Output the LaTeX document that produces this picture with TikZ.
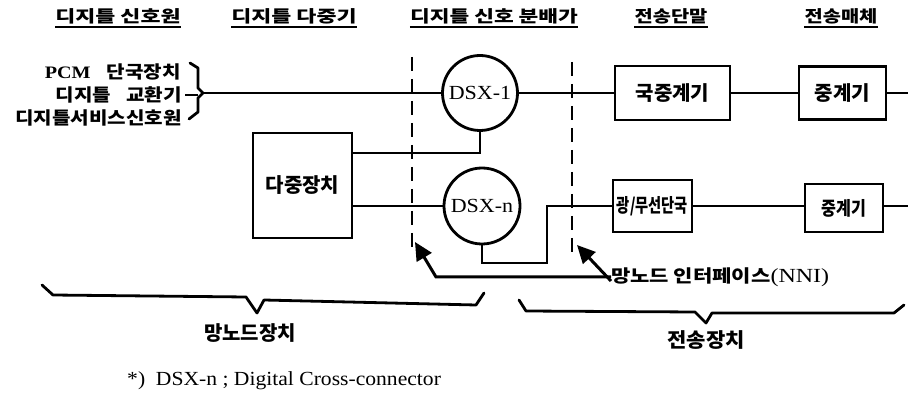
\documentclass[tikz,border=0pt]{standalone}
\usepackage{fontspec}
\setmainfont{Liberation Serif}
\newfontfamily\kr{Noto Sans CJK KR}
\usetikzlibrary{arrows.meta}
\newcommand{\KT}[3]{\scalebox{#2}[1]{\kr\bfseries\fontsize{#1}{#1}\selectfont #3}}
\newcommand{\LT}[3]{\scalebox{#2}[1]{\fontsize{#1}{#1}\selectfont #3}}
\tikzset{
  ln/.style={line width=2.8pt},
  box/.style={draw, line width=2.8pt, rectangle, inner sep=0pt},
  dsx/.style={draw, circle, line width=2.8pt, inner sep=0pt, minimum size=75pt},
  dsh/.style={line width=2.8pt, dash pattern=on 14pt off 8pt},
  arr/.style={line width=3pt, -{Triangle[length=18pt,width=17pt]}},
  txt/.style={inner sep=0pt},
  ul/.style={line width=2pt},
  brc/.style={line width=2.8pt, line join=round, line cap=round},
}
\begin{document}
\begin{tikzpicture}[x=1pt,y=-1pt]
\useasboundingbox (0,0) rectangle (908,395);
% headers
\node[txt] (h1) at (118,16) {\KT{16.5}{1.32}{디지틀 신호원}};
\node[txt] (h2) at (294,16) {\KT{16.5}{1.32}{디지틀 다중기}};
\node[txt] (h3) at (494,16) {\KT{16.5}{1.3}{디지틀 신호 분배가}};
\node[txt] (h4) at (671,16) {\KT{16.5}{1.2}{전송단말}};
\node[txt] (h5) at (841,16) {\KT{16.5}{1.2}{전송매체}};
\foreach \h in {h1,h2,h3,h4,h5}{
  \draw[ul] ([yshift=-3pt]\h.south west) -- ([yshift=-3pt]\h.south east);
}
% left sources
\node[txt, anchor=east] (s1) at (181,72) {\scalebox{1.15}[1]{\fontsize{17.5}{17.5}\selectfont\bfseries PCM\hspace{14pt}{\kr 단국장치}}};
\node[txt, anchor=east] (s2) at (182,95) {\KT{17.5}{1.15}{디지틀\hspace{13pt}교환기}};
\node[txt, anchor=east] (s3) at (182,118) {\KT{17.5}{1.15}{디지틀서비스신호원}};
% left brace
\draw[brc] (190,63) -- (198,68) -- (198,88) -- (203,93) -- (198,98) -- (198,112) -- (189,119);
\coordinate (bd1) at (185,95);
\coordinate (bd2) at (198,95);
\draw[ln] (bd1) -- (bd2);
% main nodes
\node[dsx] (d1) at (480,93) {\LT{20}{1.1}{DSX-1}};
\node[dsx, minimum size=76pt] (dn) at (482,206) {\LT{20}{1.1}{DSX-n}};
\node[box, minimum width=115pt, minimum height=54pt] (kj) at (672.5,93) {\KT{20}{1}{국중계기}};
\node[box, minimum width=87pt, minimum height=53pt] (r1) at (842.5,93) {\KT{20}{1}{중계기}};
\node[box, minimum width=79pt, minimum height=52pt] (gm) at (652.5,206) {\KT{19}{0.75}{광/무선단국}};
\node[box, minimum width=78pt, minimum height=48pt] (r2) at (844,208) {\KT{19}{0.85}{중계기}};
\node[box, minimum width=99pt, minimum height=105pt] (mux) at (302.5,185.5) {\KT{20}{1}{다중장치}};
% connections
\coordinate (bt) at (203,93);
\coordinate (e1) at (908,93);
\coordinate (e2) at (908,206);
\coordinate (m1) at (352,153);
\coordinate (c2) at (547,263);
\draw[ln] (bt) -- (d1.west);
\draw[ln] (d1.east) -- (kj.west);
\draw[ln] (kj.east) -- (r1.west);
\draw[ln] (r1.east) -- (e1);
\draw[ln] (d1.south) |- (m1);
\draw[ln] (mux.east |- dn.west) -- (dn.west);
\draw[ln] (dn.south) |- (c2) |- (gm.west);
\draw[ln] (gm.east) -- (r2.west |- gm.east);
\draw[ln] (r2.east |- e2) -- (e2);
% dashed interface lines
\coordinate (da1) at (412,57);
\coordinate (da2) at (412,250);
\coordinate (db1) at (572,62);
\coordinate (db2) at (572,255);
\draw[dsh] (da1) -- (da2);
\draw[dsh] (db1) -- (db2);
% NNI label and arrows
\node[txt, anchor=west] (nni) at (611,277) {\scalebox{1.2}[1]{\kr\bfseries\fontsize{17.5}{17.5}\selectfont 망노드 인터페이스{\rmfamily\mdseries\fontsize{20}{20}\selectfont (NNI)}}};
\coordinate (t1) at (415,242);
\coordinate (k1) at (436,277);
\coordinate (t2) at (577,245);
\draw[arr] (nni.west) -- (k1) -- (t1);
\draw[arr] ([yshift=-4pt]nni.west) -- (t2);
% bottom braces
\draw[brc] (42,285) -- (53,295) -- (246,297) -- (257,313) -- (264,300) -- (476,305) -- (484,293);
\draw[brc] (519,300) -- (526,311) -- (695,312) -- (706,323) -- (712,313) -- (894,313) -- (904,305);
\node[txt] (lb1) at (250,333) {\KT{20}{1}{망노드장치}};
\node[txt] (lb2) at (706,340) {\KT{20}{1.05}{전송장치}};
% footnote
\node[txt, anchor=west] (fn) at (127,381) {\LT{20}{1.08}{*)\ \ DSX-n ; Digital Cross-connector}};
\end{tikzpicture}
\end{document}
